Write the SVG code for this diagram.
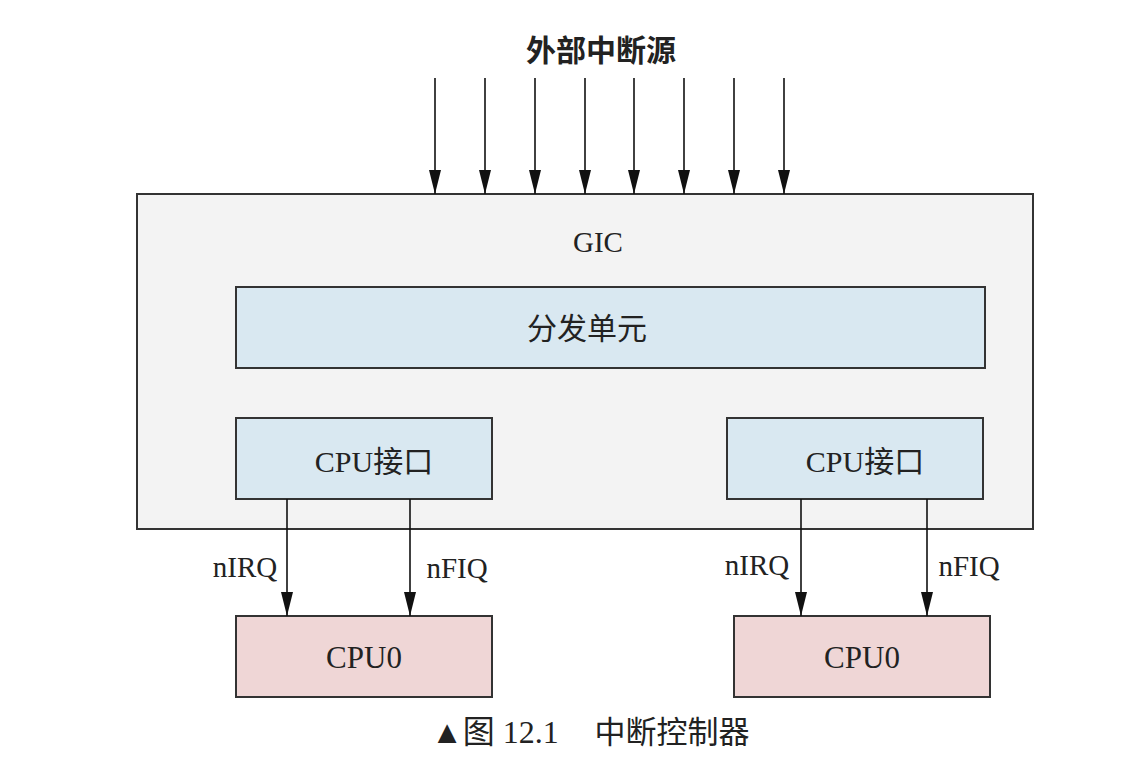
<svg xmlns="http://www.w3.org/2000/svg" width="1145" height="758" viewBox="0 0 1145 758">
<style>
.t{font-family:"Liberation Serif","Noto Sans CJK SC",serif;fill:#222;text-anchor:middle}
.box{stroke:#333;stroke-width:2}
.gic{fill:#f3f3f3}
.blue{fill:#d9e8f1}
.pink{fill:#efd6d6}
.c{stroke:#111;stroke-width:1.6;fill:none;marker-end:url(#ahd)}
</style>
<defs>
<marker id="ahd" viewBox="0 0 24 12" refX="24" refY="6" markerWidth="24" markerHeight="12" markerUnits="userSpaceOnUse" orient="auto">
<path d="M0,0 L24,6 L0,12 Z" fill="#111"/>
</marker>
</defs>
<rect width="1145" height="758" fill="#fff"/>
<text class="t" x="601" y="61" font-size="30" font-weight="bold">外部中断源</text>
<g id="gic">
<rect class="box gic" x="137" y="194" width="896" height="335"/>
<text class="t" x="598" y="252" font-size="29">GIC</text>
</g>
<g id="dist">
<rect class="box blue" x="236" y="287" width="749" height="81"/>
<text class="t" x="587" y="339" font-size="30">分发单元</text>
</g>
<g id="cpuif0">
<rect class="box blue" x="236" y="418" width="256" height="81"/>
<text class="t" x="374" y="472" font-size="30">CPU接口</text>
</g>
<g id="cpuif1">
<rect class="box blue" x="727" y="418" width="256" height="81"/>
<text class="t" x="865" y="472" font-size="30">CPU接口</text>
</g>
<g id="cpu0a">
<rect class="box pink" x="236" y="616" width="256" height="81"/>
<text class="t" x="364" y="668" font-size="31">CPU0</text>
</g>
<g id="cpu0b">
<rect class="box pink" x="734" y="616" width="256" height="81"/>
<text class="t" x="862" y="668" font-size="31">CPU0</text>
</g>
<g id="connectors">
<path class="c" d="M435,78V194"/>
<path class="c" d="M485,78V194"/>
<path class="c" d="M535,78V194"/>
<path class="c" d="M585,78V194"/>
<path class="c" d="M634,78V194"/>
<path class="c" d="M684,78V194"/>
<path class="c" d="M734,78V194"/>
<path class="c" d="M784,78V194"/>
<path class="c" d="M287,499V616"/>
<path class="c" d="M410,499V616"/>
<path class="c" d="M801,499V616"/>
<path class="c" d="M927,499V616"/>
<text class="t" x="245" y="577" font-size="29">nIRQ</text>
<text class="t" x="457" y="578" font-size="29">nFIQ</text>
<text class="t" x="757" y="575" font-size="29">nIRQ</text>
<text class="t" x="969" y="576" font-size="29">nFIQ</text>
</g>
<text class="t" x="495" y="743" font-size="32">▲图 12.1</text>
<text class="t" x="672" y="743" font-size="31">中断控制器</text>
</svg>
